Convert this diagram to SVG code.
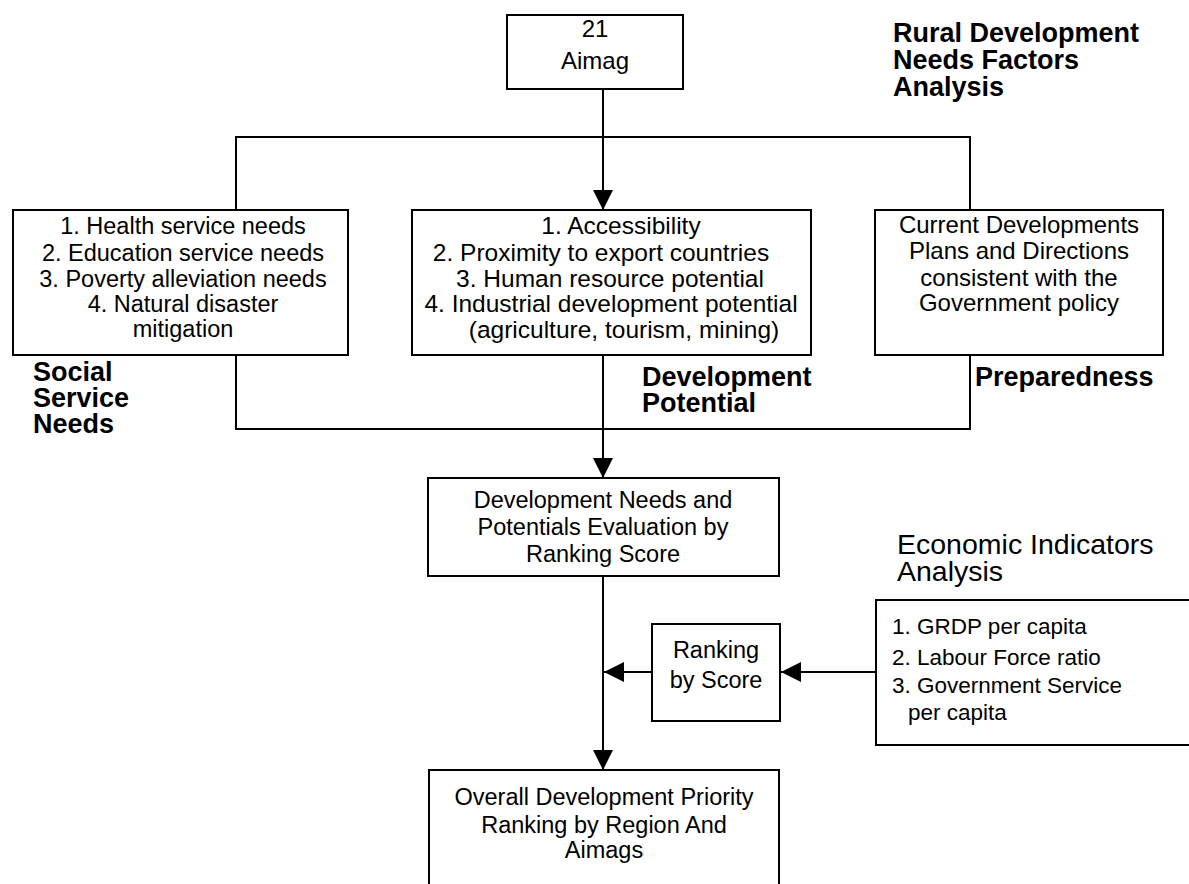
<svg xmlns="http://www.w3.org/2000/svg" width="1189" height="884" viewBox="0 0 1189 884">
<defs>
<marker id="arr" viewBox="0 0 20 20" refX="20" refY="10" markerWidth="20" markerHeight="20" markerUnits="userSpaceOnUse" orient="auto">
<path d="M0,0 L20,10 L0,20 z" fill="#000"/>
</marker>
<style>
.box{fill:#fff;stroke:#000;stroke-width:2}
.ln{fill:none;stroke:#000;stroke-width:2}
.t{font-family:"Liberation Sans",Arial,sans-serif;fill:#000;text-anchor:middle}
.tl{font-family:"Liberation Sans",Arial,sans-serif;fill:#000}
.b{font-family:"Liberation Sans",Arial,sans-serif;font-weight:bold;font-size:27px;fill:#000}
</style>
</defs>
<rect width="1189" height="884" fill="#fff"/>
<g id="connectors">
<line class="ln" x1="603" y1="89" x2="603" y2="210" marker-end="url(#arr)"/>
<polyline class="ln" points="236,209 236,137 970,137 970,210"/>
<polyline class="ln" points="236,355 236,429 970,429 970,355"/>
<line class="ln" x1="603" y1="355" x2="603" y2="478" marker-end="url(#arr)"/>
<line class="ln" x1="603" y1="576" x2="603" y2="770" marker-end="url(#arr)"/>
<line class="ln" x1="652" y1="672" x2="604" y2="672" marker-end="url(#arr)"/>
<line class="ln" x1="876" y1="672" x2="781" y2="672" marker-end="url(#arr)"/>
</g>
<g id="aimag">
<rect class="box" x="507" y="15" width="176" height="74"/>
<text class="t" x="595" y="37" font-size="24">21</text>
<text class="t" x="595" y="69" font-size="24">Aimag</text>
</g>
<g id="title-rural">
<text class="b" x="893" y="42">Rural Development</text>
<text class="b" x="893" y="69">Needs Factors</text>
<text class="b" x="893" y="96">Analysis</text>
</g>
<g id="social">
<rect class="box" x="13" y="210" width="335" height="145"/>
<text class="t" x="183" y="234" font-size="23.5">1. Health service needs</text>
<text class="t" x="183" y="261" font-size="23.5">2. Education service needs</text>
<text class="t" x="183" y="287" font-size="23.5">3. Poverty alleviation needs</text>
<text class="t" x="183" y="312" font-size="23.5">4. Natural disaster</text>
<text class="t" x="183" y="337" font-size="23.5">mitigation</text>
<text class="b" x="33" y="381">Social</text>
<text class="b" x="33" y="407">Service</text>
<text class="b" x="33" y="433">Needs</text>
</g>
<g id="potential">
<rect class="box" x="412" y="210" width="399" height="145"/>
<text class="t" x="621" y="234" font-size="24.5">1. Accessibility</text>
<text class="t" x="601" y="261" font-size="24.5">2. Proximity to export countries</text>
<text class="t" x="610" y="287" font-size="24.5">3. Human resource potential</text>
<text class="t" x="611" y="312" font-size="24.5">4. Industrial development potential</text>
<text class="t" x="624" y="338" font-size="24.5">(agriculture, tourism, mining)</text>
<text class="b" x="642" y="386">Development</text>
<text class="b" x="642" y="412">Potential</text>
</g>
<g id="preparedness">
<rect class="box" x="875" y="210" width="288" height="145"/>
<text class="t" x="1019" y="233" font-size="24">Current Developments</text>
<text class="t" x="1019" y="259" font-size="24">Plans and Directions</text>
<text class="t" x="1019" y="286" font-size="24">consistent with the</text>
<text class="t" x="1019" y="311" font-size="24">Government policy</text>
<text class="b" x="975" y="386">Preparedness</text>
</g>
<g id="evaluation">
<rect class="box" x="428" y="478" width="351" height="98"/>
<text class="t" x="603" y="508" font-size="23.5">Development Needs and</text>
<text class="t" x="603" y="535" font-size="23.5">Potentials Evaluation by</text>
<text class="t" x="603" y="562" font-size="23.5">Ranking Score</text>
</g>
<g id="ranking">
<rect class="box" x="652" y="624" width="128" height="97"/>
<text class="t" x="716" y="658" font-size="23.5">Ranking</text>
<text class="t" x="716" y="688" font-size="23.5">by Score</text>
</g>
<g id="economic">
<text class="tl" x="897" y="554" font-size="28.5">Economic Indicators</text>
<text class="tl" x="897" y="581" font-size="28.5">Analysis</text>
<rect class="box" x="876" y="600" width="330" height="145"/>
<text class="tl" x="892" y="634" font-size="22.5">1. GRDP per capita</text>
<text class="tl" x="892" y="665" font-size="22.5">2. Labour Force ratio</text>
<text class="tl" x="892" y="693" font-size="22.5">3. Government Service</text>
<text class="tl" x="908" y="720" font-size="22.5">per capita</text>
</g>
<g id="overall">
<rect class="box" x="429" y="770" width="350" height="130"/>
<text class="t" x="604" y="805" font-size="23.5">Overall Development Priority</text>
<text class="t" x="604" y="833" font-size="23.5">Ranking by Region And</text>
<text class="t" x="604" y="858" font-size="23.5">Aimags</text>
</g>
</svg>
